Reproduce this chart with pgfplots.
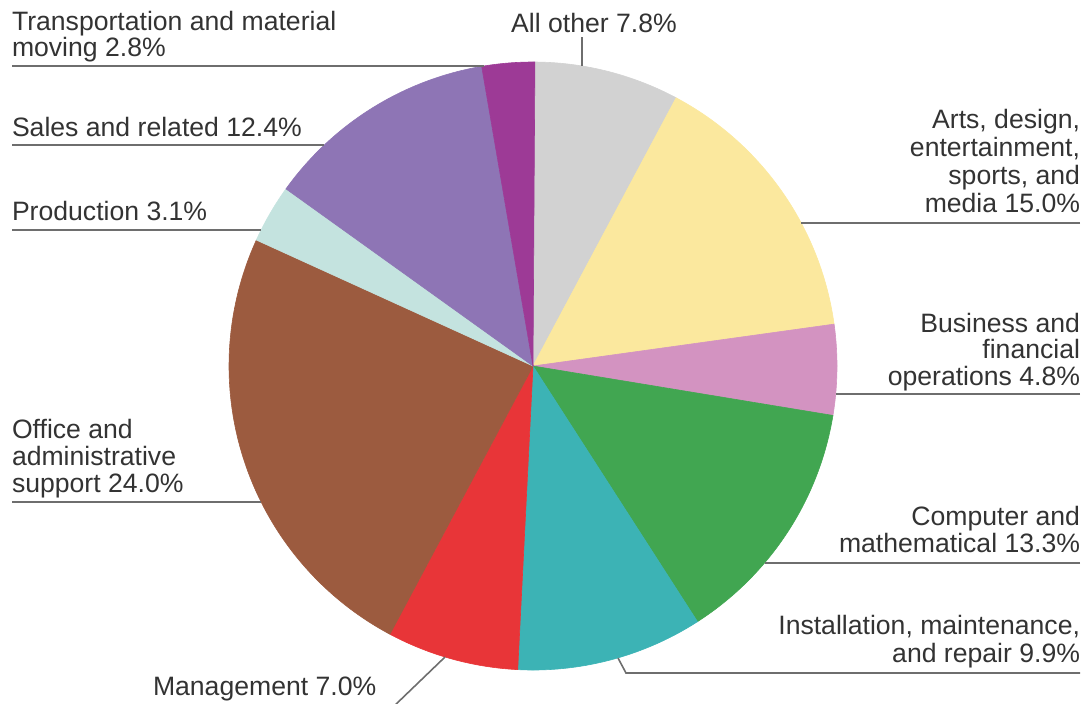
\documentclass[border=0pt]{standalone}
\usepackage{fontspec}
\setmainfont{Liberation Sans}
\usepackage{pgfplots}
\pgfplotsset{compat=1.18}
\usepackage{pgfplotstable}

\definecolor{cAll}{HTML}{D2D2D2}
\definecolor{cArts}{HTML}{FBE89E}
\definecolor{cBus}{HTML}{D393C1}
\definecolor{cComp}{HTML}{41A651}
\definecolor{cInst}{HTML}{3CB3B5}
\definecolor{cMgmt}{HTML}{E83538}
\definecolor{cOff}{HTML}{9C5B3F}
\definecolor{cProd}{HTML}{C4E3DF}
\definecolor{cSales}{HTML}{8E75B5}
\definecolor{cTrans}{HTML}{9D3A96}
\definecolor{txt}{HTML}{333333}
\definecolor{rulec}{HTML}{6E6E6E}

% shares in percent, clockwise from 12 o'clock
\pgfplotstableread{
share color
7.8 cAll
15.0 cArts
4.8 cBus
13.3 cComp
9.9 cInst
7.0 cMgmt
24.0 cOff
3.1 cProd
12.4 cSales
2.8 cTrans
}\piedata

\tikzset{lab/.style={font=\fontsize{13.3pt}{13.5pt}\selectfont, text=txt, inner sep=0pt, outer sep=0pt},
  ld/.style={draw=rulec, line width=0.8pt}}

\begin{document}
\begin{tikzpicture}
\begin{axis}[name=ax, x=0.5pt, y=0.5pt, xmin=0, xmax=1086, ymin=0, ymax=703,
  y dir=reverse, hide axis, clip=false, scale only axis]
\pgfplotstablegetrowsof{\piedata}
\pgfmathtruncatemacro\nrows{\pgfplotsretval-1}
\gdef\cumshare{0}
\pgfplotsforeachungrouped \i in {0,...,\nrows}{%
  \pgfplotstablegetelem{\i}{share}\of\piedata \let\sliceval\pgfplotsretval
  \pgfplotstablegetelem{\i}{color}\of\piedata \let\slicecol\pgfplotsretval
  \pgfmathsetmacro\angA{3.6*\cumshare}%
  \pgfmathsetmacro\angB{3.6*(\cumshare+\sliceval)}%
  \edef\temp{\noexpand\addplot[fill=\slicecol, draw=\slicecol, line width=0.3pt, domain=\angA:\angB, samples=90]
     ({533+304*sin(x)},{366-304*cos(x)}) -- (axis cs:533,366) -- cycle;}%
  \temp
  \pgfmathsetmacro\newcum{\cumshare+\sliceval}%
  \xdef\cumshare{\newcum}%
}

% leader lines
\draw[ld] (axis cs:12,66) -- (axis cs:484,66);
\draw[ld] (axis cs:12,145) -- (axis cs:324,145);
\draw[ld] (axis cs:12,230) -- (axis cs:261,230);
\draw[ld] (axis cs:12,502) -- (axis cs:261,502);
\draw[ld] (axis cs:582,37) -- (axis cs:582,66);
\draw[ld] (axis cs:1080,223) -- (axis cs:801,223);
\draw[ld] (axis cs:1080,394) -- (axis cs:836,394);
\draw[ld] (axis cs:1080,563) -- (axis cs:765,563);
\draw[ld] (axis cs:1080,673) -- (axis cs:626,673) -- (axis cs:618,658);
\draw[ld] (axis cs:392,708) -- (axis cs:445,657);

% labels left
\node[lab, anchor=base west] at (axis cs:12,30.5) {Transportation and material};
\node[lab, anchor=base west] at (axis cs:12,56) {moving 2.8\%};
\node[lab, anchor=base west] at (axis cs:12,136) {Sales and related 12.4\%};
\node[lab, anchor=base west] at (axis cs:12,220) {Production 3.1\%};
\node[lab, anchor=base west] at (axis cs:12,438) {Office and};
\node[lab, anchor=base west] at (axis cs:12,465) {administrative};
\node[lab, anchor=base west] at (axis cs:12,492) {support 24.0\%};
\node[lab, anchor=base west] at (axis cs:153,695) {Management 7.0\%};
% top
\node[lab, anchor=base] at (axis cs:594,32) {All other 7.8\%};
% labels right
\node[lab, anchor=base east] at (axis cs:1080,128) {Arts, design,};
\node[lab, anchor=base east] at (axis cs:1080,156) {entertainment,};
\node[lab, anchor=base east] at (axis cs:1080,184) {sports, and};
\node[lab, anchor=base east] at (axis cs:1080,212) {media 15.0\%};
\node[lab, anchor=base east] at (axis cs:1080,332) {Business and};
\node[lab, anchor=base east] at (axis cs:1080,358) {financial};
\node[lab, anchor=base east] at (axis cs:1080,385) {operations 4.8\%};
\node[lab, anchor=base east] at (axis cs:1080,525) {Computer and};
\node[lab, anchor=base east] at (axis cs:1080,552) {mathematical 13.3\%};
\node[lab, anchor=base east] at (axis cs:1080,634) {Installation, maintenance,};
\node[lab, anchor=base east] at (axis cs:1080,662) {and repair 9.9\%};
\end{axis}
\pgfresetboundingbox
\path (ax.south west) rectangle (ax.north east);
\end{tikzpicture}
\end{document}
